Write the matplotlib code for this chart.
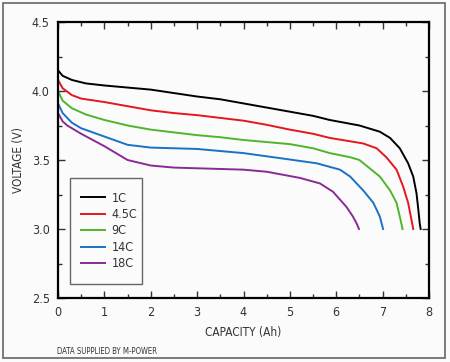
import matplotlib
matplotlib.use("Agg")
import matplotlib.pyplot as plt
from matplotlib.patches import Rectangle
from matplotlib.ticker import MultipleLocator

plt.rcParams['font.family'] = ['DejaVu Sans']
plt.rcParams['font.stretch'] = 'condensed'

# ---------------- Daten ----------------
labels = ["1C", "4.5C", "9C", "14C", "18C"]
colors = ["#000000", "#e4161e", "#4fb52a", "#1a72c4", "#8a2a96"]

x_1c = [0, 0.1, 0.3, 0.6, 1, 1.5, 2, 2.5, 3, 3.5, 4, 4.5, 5, 5.5, 5.86, 6.5,
        6.94, 7.16, 7.37, 7.55, 7.66, 7.73, 7.77, 7.80, 7.82]
y_1c = [4.15, 4.11, 4.08, 4.055, 4.04, 4.025, 4.01, 3.985, 3.96, 3.94, 3.91,
        3.88, 3.85, 3.82, 3.79, 3.75, 3.705, 3.66, 3.585, 3.476, 3.38, 3.26,
        3.14, 3.04, 3.0]

x_45c = [0, 0.1, 0.3, 0.5, 1, 1.5, 2, 2.5, 3, 3.5, 4, 4.5, 5, 5.5, 5.86, 6.58,
         6.87, 7.08, 7.30, 7.44, 7.55, 7.62, 7.66]
y_45c = [4.08, 4.02, 3.97, 3.945, 3.92, 3.89, 3.86, 3.84, 3.825, 3.805, 3.785,
         3.755, 3.72, 3.69, 3.66, 3.62, 3.585, 3.52, 3.43, 3.31, 3.19, 3.07, 3.0]

x_9c = [0, 0.1, 0.3, 0.6, 1, 1.5, 2, 2.5, 3, 3.5, 4, 4.5, 5, 5.5, 5.86, 6.3,
        6.5, 6.72, 6.94, 7.16, 7.30, 7.37, 7.43]
y_9c = [4.0, 3.93, 3.875, 3.83, 3.79, 3.75, 3.72, 3.70, 3.68, 3.665, 3.645,
        3.63, 3.615, 3.585, 3.55, 3.52, 3.50, 3.44, 3.38, 3.28, 3.19, 3.09, 3.0]

x_14c = [0, 0.1, 0.3, 0.5, 1, 1.5, 2, 2.5, 3, 3.5, 4, 4.86, 5.58, 6.08, 6.3,
         6.58, 6.80, 6.94, 7.01]
y_14c = [3.91, 3.84, 3.77, 3.73, 3.67, 3.61, 3.59, 3.585, 3.58, 3.565, 3.55,
         3.51, 3.476, 3.43, 3.38, 3.28, 3.19, 3.09, 3.0]

x_18c = [0, 0.1, 0.2, 0.5, 1, 1.5, 2, 2.5, 3, 3.5, 4, 4.5, 5.22, 5.65, 5.93,
         6.22, 6.36, 6.44, 6.49]
y_18c = [3.84, 3.78, 3.75, 3.69, 3.60, 3.50, 3.46, 3.445, 3.44, 3.435, 3.43,
         3.415, 3.37, 3.33, 3.27, 3.16, 3.09, 3.04, 3.0]

curves = [(x_1c, y_1c), (x_45c, y_45c), (x_9c, y_9c), (x_14c, y_14c), (x_18c, y_18c)]

# ---------------- Plot ----------------
fig = plt.figure(figsize=(4.5, 3.62), dpi=100, facecolor="#fbfbfb")
fig.patches.append(Rectangle((3 / 450, 1 - 358 / 362), 442 / 450, 355 / 362,
                             transform=fig.transFigure, fill=False,
                             edgecolor="#666666", linewidth=1.2))

ax = fig.add_axes([58 / 450, 1 - 298 / 362, 371 / 450, 276 / 362])
ax.set_facecolor("#fbfbfb")

handles = []
for (xs, ys), lab, col in zip(curves, labels, colors):
    h, = ax.plot(xs, ys, color=col, linewidth=1.4, label=lab)
    handles.append(h)

ax.set_xlim(0, 8)
ax.set_ylim(2.5, 4.5)
ax.xaxis.set_major_locator(MultipleLocator(1))
ax.xaxis.set_minor_locator(MultipleLocator(0.5))
ax.yaxis.set_major_locator(MultipleLocator(0.5))
ax.yaxis.set_minor_locator(MultipleLocator(0.25))
ax.yaxis.set_major_formatter(matplotlib.ticker.FormatStrFormatter("%.1f"))
ax.tick_params(which="both", direction="in", top=True, right=True,
               labelsize=9, color="#333333", labelcolor="#333333")
ax.tick_params(which="major", length=5, width=1, pad=6)
ax.tick_params(which="minor", length=3, width=1)
for s in ax.spines.values():
    s.set_linewidth(1.6)

ax.set_xlabel("CAPACITY (Ah)", fontsize=8.5, labelpad=5, color="#333333")
ax.set_ylabel("VOLTAGE (V)", fontsize=8.5, labelpad=5, color="#333333")

# Legende mit eigenem Rahmen
ax.add_patch(Rectangle((12 / 371, (298 - 284) / 276), 72 / 371, 106 / 276,
                       transform=ax.transAxes, fill=False,
                       edgecolor="#666666", linewidth=1.0, zorder=5))
leg = ax.legend(handles=handles, loc="upper left", frameon=False,
                bbox_to_anchor=(14 / 371, (298 - 183) / 276), fontsize=9,
                handlelength=1.9, handletextpad=0.55, labelspacing=0.27,
                borderpad=0.2)
for t in leg.get_texts():
    t.set_color("#333333")

fig.text(57 / 450, 1 - 351 / 362, "DATA SUPPLIED BY M-POWER", fontsize=5.6,
         va="center", ha="left", color="#333333")

fig.savefig("out.png", dpi=100, facecolor=fig.get_facecolor())
